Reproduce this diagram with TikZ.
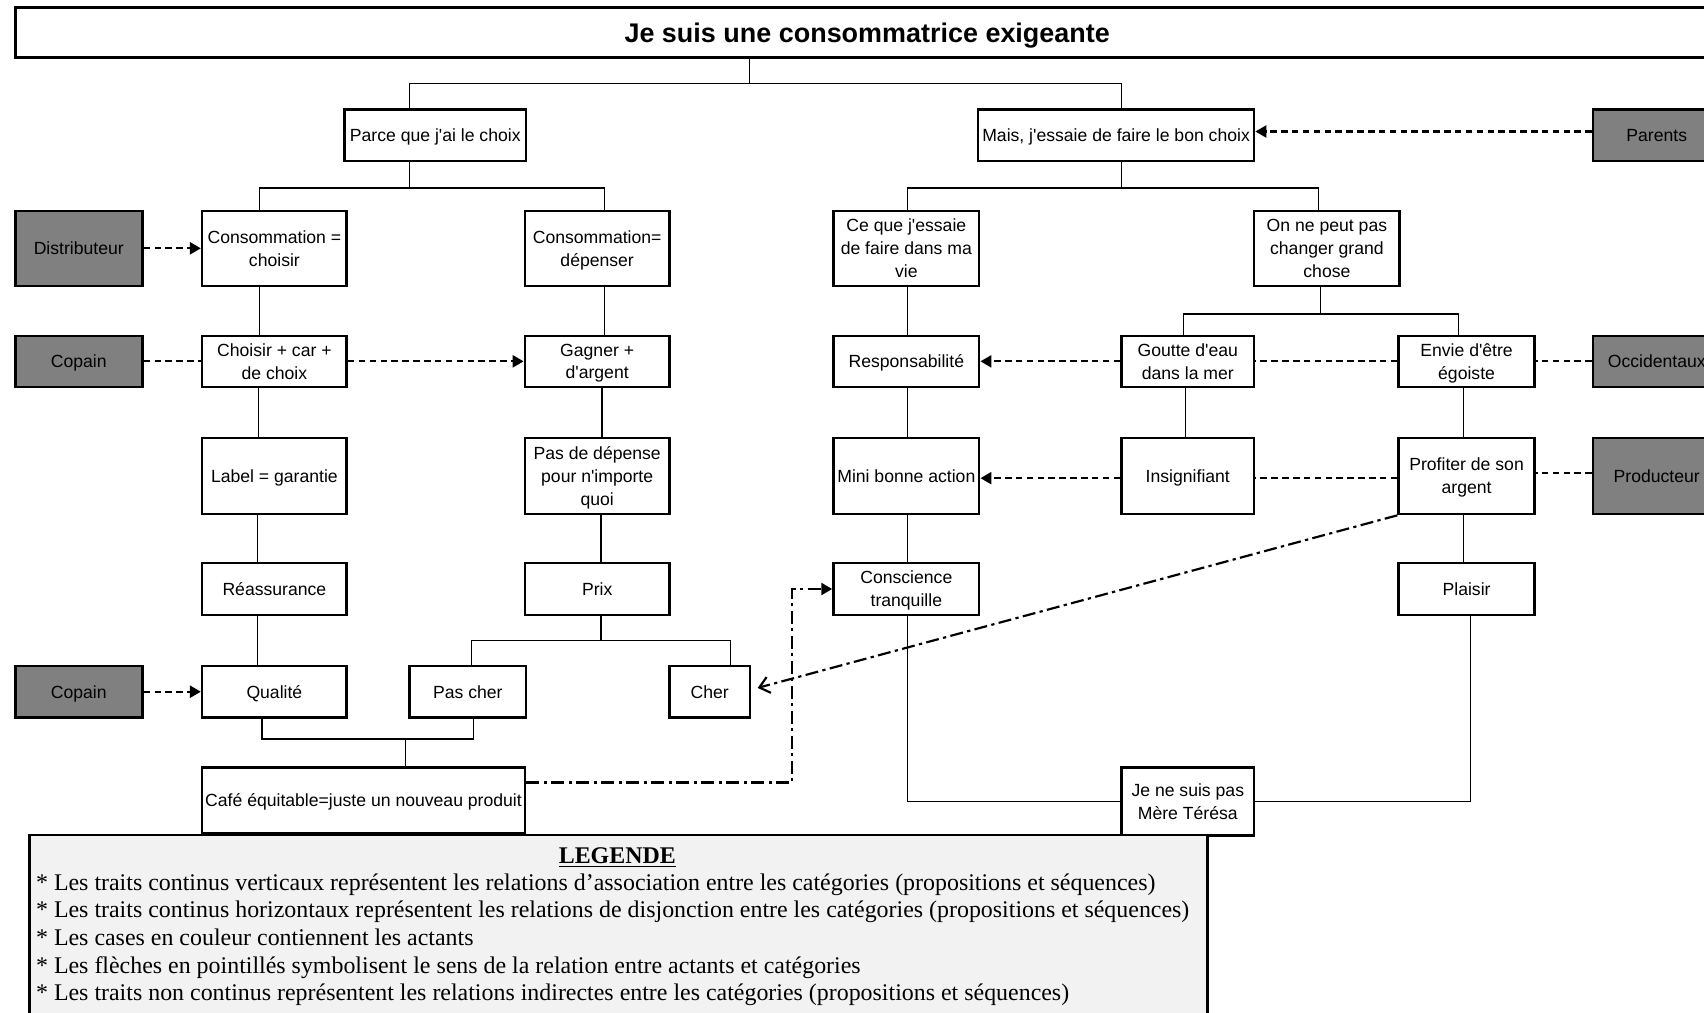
\documentclass[tikz,border=0pt]{standalone}
\usepackage{fontspec}
\setmainfont{Liberation Serif}
\newfontfamily\arialfont{Liberation Sans}
\usetikzlibrary{arrows.meta}

\definecolor{actorgray}{RGB}{128,128,128}
\definecolor{legendbg}{RGB}{242,242,242}

\begin{document}
\begin{tikzpicture}[x=1pt,y=-1pt,
  cat/.style={draw, line width=2.4pt, fill=white, align=center, inner sep=0pt, text depth=0pt,
              font=\arialfont\fontsize{16.2}{21}\selectfont},
  actor/.style={cat, fill=actorgray},
  link/.style={line width=1.1pt},
  rel/.style={line width=2pt, dash pattern=on 6pt off 4pt},
  relarrow/.style={rel, -{Triangle[length=10pt,width=11pt]}},
  indirect/.style={line width=2pt, dash pattern=on 12pt off 4pt on 3pt off 4pt},
  legendline/.style={anchor=base west, inner sep=0pt, font=\fontsize{22}{25}\selectfont}
]
\path[use as bounding box] (0,0) rectangle (1568,932);
\clip (0,0) rectangle (1568,932);

% headline
\node[cat, minimum width=1568pt, minimum height=46pt,
      font=\arialfont\bfseries\fontsize{24.8}{28}\selectfont] (title) at (798,30)
      {Je suis une consommatrice exigeante};

% first level
\node[cat, minimum width=167pt, minimum height=47pt] (pc) at (400.5,124.5) {Parce que j\textquotesingle ai le choix};
\node[cat, minimum width=254pt, minimum height=47pt] (mais) at (1027,124.5) {Mais, j\textquotesingle essaie de faire le bon choix};
\node[actor, minimum width=117pt, minimum height=47pt] (parents) at (1524.5,124.5) {Parents};

% second level
\node[actor, minimum width=117pt, minimum height=69pt] (distr) at (72.5,228.5) {Distributeur};
\node[cat, minimum width=133pt, minimum height=69pt] (cchoisir) at (252.5,228.5) {Consommation =\\choisir};
\node[cat, minimum width=133pt, minimum height=69pt] (cdep) at (549.5,228.5) {Consommation=\\dépenser};
\node[cat, minimum width=134pt, minimum height=69pt] (cequ) at (834,228.5) {Ce que j\textquotesingle essaie\\de faire dans ma\\vie};
\node[cat, minimum width=134pt, minimum height=69pt] (onne) at (1221,228.5) {On ne peut pas\\changer grand\\chose};

% third level
\node[actor, minimum width=117pt, minimum height=47pt] (copain1) at (72.5,332.5) {Copain};
\node[cat, minimum width=133pt, minimum height=47pt] (choisir) at (252.5,332.5) {Choisir + car +\\de choix};
\node[cat, minimum width=133pt, minimum height=47pt] (gagner) at (549.5,332.5) {Gagner +\\d\textquotesingle argent};
\node[cat, minimum width=134pt, minimum height=47pt] (resp) at (834,332.5) {Responsabilité};
\node[cat, minimum width=122pt, minimum height=47pt] (goutte) at (1093,332.5) {Goutte d\textquotesingle eau\\dans la mer};
\node[cat, minimum width=125pt, minimum height=47pt] (envie) at (1349.5,332.5) {Envie d\textquotesingle être\\égoiste};
\node[actor, minimum width=117pt, minimum height=47pt] (occ) at (1524.5,332.5) {Occidentaux};

% fourth level
\node[cat, minimum width=133pt, minimum height=70pt] (label) at (252.5,438) {Label = garantie};
\node[cat, minimum width=133pt, minimum height=70pt] (pasdep) at (549.5,438) {Pas de dépense\\pour n\textquotesingle importe\\quoi};
\node[cat, minimum width=134pt, minimum height=70pt] (mini) at (834,438) {Mini bonne action};
\node[cat, minimum width=122pt, minimum height=70pt] (insig) at (1093,438) {Insignifiant};
\node[cat, minimum width=125pt, minimum height=70pt] (profiter) at (1349.5,438) {Profiter de son\\argent};
\node[actor, minimum width=117pt, minimum height=70pt] (prod) at (1524.5,438) {Producteur};

% fifth level
\node[cat, minimum width=133pt, minimum height=48pt] (reass) at (252.5,542) {Réassurance};
\node[cat, minimum width=133pt, minimum height=48pt] (prix) at (549.5,542) {Prix};
\node[cat, minimum width=134pt, minimum height=48pt] (consc) at (834,542) {Conscience\\tranquille};
\node[cat, minimum width=125pt, minimum height=48pt] (plaisir) at (1349.5,542) {Plaisir};

% sixth level
\node[actor, minimum width=117pt, minimum height=47pt] (copain2) at (72.5,636.5) {Copain};
\node[cat, minimum width=133pt, minimum height=47pt] (qualite) at (252.5,636.5) {Qualité};
\node[cat, minimum width=107pt, minimum height=47pt] (pascher) at (430.5,636.5) {Pas cher};
\node[cat, minimum width=74pt, minimum height=47pt] (cher) at (653,636.5) {Cher};

% conclusions
\node[cat, minimum width=297pt, minimum height=61pt] (cafe) at (334.5,736.5) {Café équitable=juste un nouveau produit};
\node[cat, minimum width=122pt, minimum height=63pt] (mere) at (1093,737.5) {Je ne suis pas\\Mère Térésa};

% association / disjunction lines
\coordinate (jt) at (690,77);
\draw[link] (title.south -| jt) -- (jt);
\draw[link] ([xshift=-23.5pt]pc.north) |- (jt) -| ([xshift=5pt]mais.north);

\coordinate (jl) at (377,173);
\draw[link] (pc.south -| jl) -- (jl);
\draw[link] ([xshift=-13.5pt]cchoisir.north) |- (jl) -| ([xshift=6.5pt]cdep.north);

\coordinate (jr) at (1032,173);
\draw[link] (mais.south -| jr) -- (jr);
\draw[link] ([xshift=1pt]cequ.north) |- (jr) -| ([xshift=-8pt]onne.north);

\draw[link] ([xshift=-13.5pt]cchoisir.south) -- ([xshift=-13.5pt]choisir.north);
\draw[link] ([xshift=-14.5pt]choisir.south) -- ([xshift=-14.5pt]label.north);
\draw[link] ([xshift=-15.5pt]label.south) -- ([xshift=-15.5pt]reass.north);
\draw[link] ([xshift=-15.5pt]reass.south) -- ([xshift=-15.5pt]qualite.north);

\draw[link] ([xshift=6.5pt]cdep.south) -- ([xshift=6.5pt]gagner.north);
\draw[link] ([xshift=4.5pt]gagner.south) -- ([xshift=4.5pt]pasdep.north);
\draw[link] ([xshift=3.5pt]pasdep.south) -- ([xshift=3.5pt]prix.north);
\coordinate (jp) at (553,589);
\draw[link] (prix.south -| jp) -- (jp);
\draw[link] ([xshift=3.5pt]pascher.north) |- (jp) -| ([xshift=19pt]cher.north);

\coordinate (jc) at (373,680);
\draw[link] ([xshift=-11.5pt]qualite.south) |- (jc) -| ([xshift=5.5pt]pascher.south);
\draw[link] (jc) -- (cafe.north -| jc);

\draw[link] ([xshift=1pt]cequ.south) -- ([xshift=1pt]resp.north);
\draw[link] ([xshift=1pt]resp.south) -- ([xshift=1pt]mini.north);
\draw[link] ([xshift=1pt]mini.south) -- ([xshift=1pt]consc.north);
\draw[link] ([xshift=1pt]consc.south) |- (mere.west);
\draw[link] ([xshift=3.5pt]plaisir.south) |- (mere.east);

\coordinate (jo) at (1215,289);
\draw[link] (onne.south -| jo) -- (jo);
\draw[link] ([xshift=-4pt]goutte.north) |- (jo) -| ([xshift=-7.5pt]envie.north);
\draw[link] ([xshift=-2pt]goutte.south) -- ([xshift=-2pt]insig.north);
\draw[link] ([xshift=-2.5pt]envie.south) -- ([xshift=-2.5pt]profiter.north);
\draw[link] ([xshift=-2.5pt]profiter.south) -- ([xshift=-2.5pt]plaisir.north);

% relations between actors and categories
\draw[relarrow] (distr) -- (cchoisir);
\draw[rel] (copain1) -- (choisir);
\draw[relarrow] (choisir) -- (gagner);
\draw[relarrow] (copain2) -- (qualite);
\draw[relarrow] ([yshift=3.5pt]parents.west) -- ([yshift=3.5pt]mais.east);
\draw[relarrow] (goutte) -- (resp);
\draw[rel] (envie) -- (goutte);
\draw[rel] (occ) -- (envie);
\draw[relarrow] ([yshift=-2pt]insig.west) -- ([yshift=-2pt]mini.east);
\draw[rel] ([yshift=-2pt]profiter.west) -- ([yshift=-2pt]insig.east);
\draw[rel] ([yshift=3pt]prod.west) -- ([yshift=3pt]profiter.east);

% indirect relations
\coordinate (bend) at (729,542);
\draw[indirect, -{Triangle[length=10pt,width=11pt]}] ([yshift=16.5pt]cafe.east) -| (bend) -- (consc.west);
\draw[indirect, -{Straight Barb[length=9pt,width=15pt]}] (profiter.south west) -- ([xshift=6pt,yshift=3.5pt]cher.east);

% legend
\node[draw, line width=2.4pt, fill=legendbg, minimum width=1084pt, minimum height=200pt,
      anchor=north west, inner sep=0pt] (legend) at (26,767) {};
\node[legendline, anchor=base, font=\bfseries\fontsize{22}{25}\selectfont] (legtitle) at (568,795) {\underline{LEGENDE}};
\node[legendline] (leg1) at (33,819) {* Les traits continus verticaux représentent les relations d’association entre les catégories (propositions et séquences)};
\node[legendline] (leg2) at (33,844.5) {* Les traits continus horizontaux représentent les relations de disjonction entre les catégories (propositions et séquences)};
\node[legendline] (leg3) at (33,870) {* Les cases en couleur contiennent les actants};
\node[legendline] (leg4) at (33,895.5) {* Les flèches en pointillés symbolisent le sens de la relation entre actants et catégories};
\node[legendline] (leg5) at (33,921) {* Les traits non continus représentent les relations indirectes entre les catégories (propositions et séquences)};
\end{tikzpicture}
\end{document}
